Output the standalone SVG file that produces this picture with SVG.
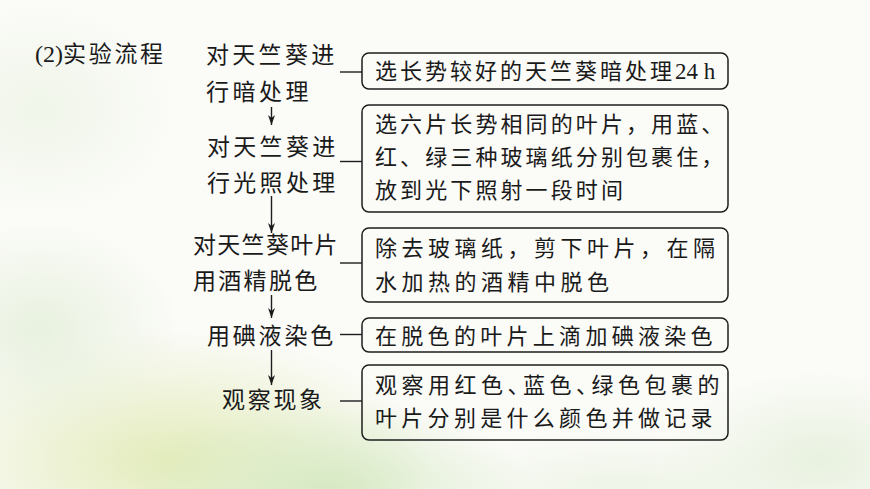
<svg xmlns="http://www.w3.org/2000/svg" width="870" height="489" viewBox="0 0 870 489">
<defs>
<radialGradient id="g1" cx="0.5" cy="0.5" r="0.5">
<stop offset="0" stop-color="#e2ebb8" stop-opacity="0.95"/>
<stop offset="1" stop-color="#e2ebb8" stop-opacity="0"/>
</radialGradient>
<radialGradient id="g2" cx="0.5" cy="0.5" r="0.5">
<stop offset="0" stop-color="#d3e8c0" stop-opacity="0.9"/>
<stop offset="1" stop-color="#d3e8c0" stop-opacity="0"/>
</radialGradient>
<radialGradient id="g3" cx="0.5" cy="0.5" r="0.5">
<stop offset="0" stop-color="#e6f0dc" stop-opacity="0.9"/>
<stop offset="1" stop-color="#e6f0dc" stop-opacity="0"/>
</radialGradient>
<marker id="arr" markerWidth="10" markerHeight="7" refX="10" refY="3.5" orient="auto" markerUnits="userSpaceOnUse" viewBox="0 0 10 7">
<path d="M0,0 L10,3.5 L0,7 L3,3.5 Z" fill="#1a1a1a"/>
</marker>
<style>
.cj{font-family:"Noto Sans CJK SC","Noto Sans",sans-serif;fill:#1a1a1a;}
.lb{font-size:23px;}
.bx{font-size:22px;}
.sr{font-family:"Liberation Serif",serif;}
.box{fill:none;stroke:#1e1e1e;stroke-width:1.5;}
.ln{stroke:#1e1e1e;stroke-width:1.4;fill:none;}
</style>
</defs>
<rect width="870" height="489" fill="#fbfbf8"/>
<ellipse cx="170" cy="460" rx="260" ry="130" fill="url(#g1)"/>
<ellipse cx="330" cy="489" rx="200" ry="90" fill="url(#g2)"/>
<ellipse cx="40" cy="330" rx="140" ry="110" fill="url(#g3)"/>
<ellipse cx="40" cy="110" rx="140" ry="110" fill="url(#g3)" opacity="0.6"/>
<ellipse cx="820" cy="460" rx="160" ry="90" fill="url(#g3)"/>
<ellipse cx="620" cy="489" rx="200" ry="60" fill="url(#g3)" opacity="0.7"/>

<g id="title">
<text x="35" y="62" class="cj lb"><tspan class="sr" font-size="24">(2)</tspan><tspan letter-spacing="2.7">实验流程</tspan></text>
</g>

<g id="connectors">
<line class="ln" x1="271.5" y1="107" x2="271.5" y2="125" marker-end="url(#arr)"/>
<line class="ln" x1="271.5" y1="196" x2="271.5" y2="233" marker-end="url(#arr)"/>
<line class="ln" x1="271.5" y1="295" x2="271.5" y2="318" marker-end="url(#arr)"/>
<line class="ln" x1="271.5" y1="350" x2="271.5" y2="385" marker-end="url(#arr)"/>
<line class="ln" x1="340" y1="72" x2="362" y2="72"/>
<line class="ln" x1="340" y1="161.5" x2="362" y2="161.5"/>
<line class="ln" x1="340" y1="263" x2="362" y2="263"/>
<line class="ln" x1="340" y1="334.5" x2="362" y2="334.5"/>
<line class="ln" x1="340" y1="401" x2="362" y2="401"/>
</g>

<g id="step1">
<text class="cj lb" x="206" y="63" letter-spacing="3.3">对天竺葵进</text>
<text class="cj lb" x="206" y="100" letter-spacing="3.5">行暗处理</text>
</g>
<g id="step2">
<text class="cj lb" x="207" y="155" letter-spacing="3.3">对天竺葵进</text>
<text class="cj lb" x="207" y="191" letter-spacing="3.3">行光照处理</text>
</g>
<g id="step3">
<text class="cj lb" x="193" y="253" letter-spacing="1.3">对天竺葵叶片</text>
<text class="cj lb" x="193" y="289" letter-spacing="2.3">用酒精脱色</text>
</g>
<g id="step4">
<text class="cj lb" x="207" y="344" letter-spacing="2.8">用碘液染色</text>
</g>
<g id="step5">
<text class="cj lb" x="222" y="408" letter-spacing="2.7">观察现象</text>
</g>

<g id="box1">
<rect class="box" x="362" y="53" width="366" height="36" rx="7"/>
<text class="cj bx" x="375" y="78.5"><tspan letter-spacing="3">选长势较好的天竺葵暗处理</tspan><tspan class="sr" font-size="23">24 h</tspan></text>
</g>
<g id="box2">
<rect class="box" x="362" y="105" width="366" height="107" rx="7"/>
<text class="cj bx" x="375" y="132" letter-spacing="3.1">选六片长势相同的叶片，用蓝、</text>
<text class="cj bx" x="375" y="165" letter-spacing="3.1">红、绿三种玻璃纸分别包裹住，</text>
<text class="cj bx" x="375" y="198" letter-spacing="3.1">放到光下照射一段时间</text>
</g>
<g id="box3">
<rect class="box" x="362" y="228" width="366" height="74" rx="7"/>
<text class="cj bx" x="375" y="256" letter-spacing="4.5">除去玻璃纸，剪下叶片，在隔</text>
<text class="cj bx" x="375" y="290" letter-spacing="4.5">水加热的酒精中脱色</text>
</g>
<g id="box4">
<rect class="box" x="362" y="318" width="366" height="34" rx="7"/>
<text class="cj bx" x="375" y="344" letter-spacing="4.3">在脱色的叶片上滴加碘液染色</text>
</g>
<g id="box5">
<rect class="box" x="362" y="365" width="366" height="75" rx="7"/>
<text class="cj bx" x="375" y="393" letter-spacing="4.5">观察用红色<tspan letter-spacing="-6.5">、</tspan>蓝色<tspan letter-spacing="-6.5">、</tspan>绿色包裹的</text>
<text class="cj bx" x="375" y="426" letter-spacing="4.3">叶片分别是什么颜色并做记录</text>
</g>
</svg>
